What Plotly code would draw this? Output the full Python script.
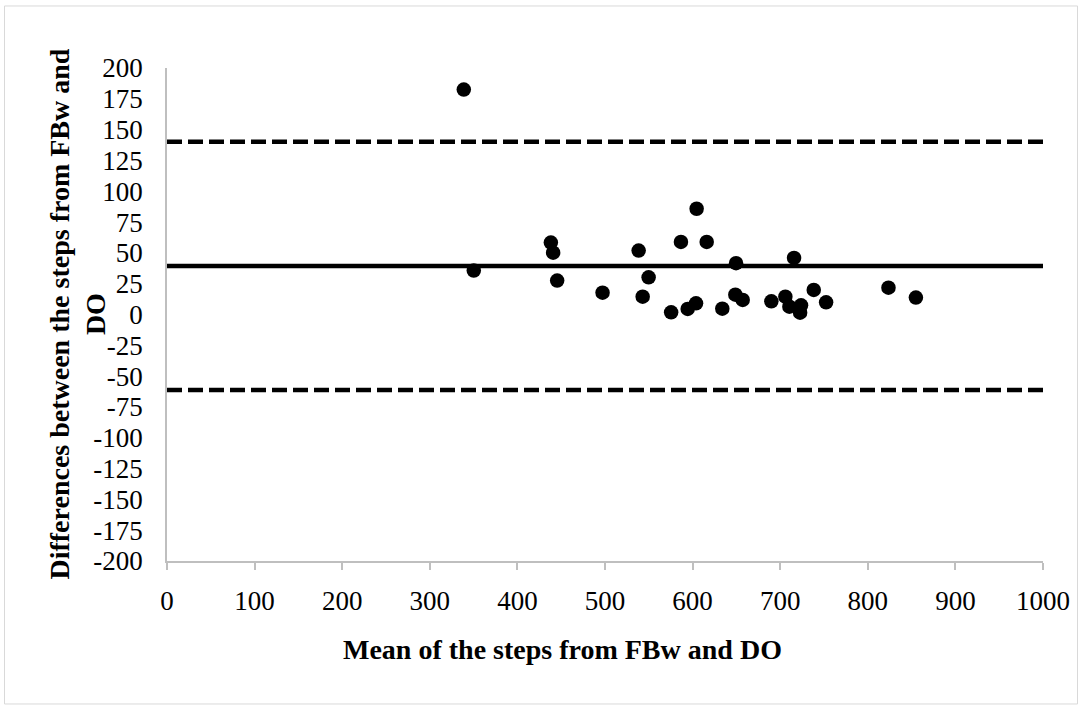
import plotly.graph_objects as go

# Data (Bland-Altman style plot)
mean_steps = [338.8, 350.2, 438.2, 440.8, 445.4, 497.2, 538.4, 543.0, 549.8, 575.5,
              594.4, 603.9, 586.7, 604.6, 616.1, 633.9, 649.6, 648.8, 657.2, 689.9,
              705.9, 710.5, 715.8, 723.8, 722.7, 738.3, 752.4, 823.6, 854.9]
diff_steps = [182.5, 35.6, 58.4, 50.2, 27.5, 17.7, 51.9, 14.5, 30.2, 1.8,
              4.5, 9.1, 58.9, 85.8, 58.9, 4.7, 41.6, 16.1, 11.8, 10.7,
              14.5, 6.3, 45.9, 7.5, 1.5, 19.9, 9.9, 21.8, 13.7]
line_x = [0, 1000]
mean_diff = 39.4
upper_loa = 140.2
lower_loa = -61.3
y_ticks = list(range(-200, 201, 25))
y_tick_labels = [str(v) for v in y_ticks]  # plain hyphen minus as in reference
x_ticks = list(range(0, 1001, 100))
x_tick_labels = [str(v) for v in x_ticks]

FONT = "Liberation Serif"

fig = go.Figure()
fig.add_trace(go.Scatter(x=line_x, y=[upper_loa, upper_loa], mode="lines",
                         line=dict(color="black", width=4.5, dash="15px,6px"),
                         hoverinfo="skip", showlegend=False))
fig.add_trace(go.Scatter(x=line_x, y=[lower_loa, lower_loa], mode="lines",
                         line=dict(color="black", width=4.5, dash="15px,6px"),
                         hoverinfo="skip", showlegend=False))
fig.add_trace(go.Scatter(x=line_x, y=[mean_diff, mean_diff], mode="lines",
                         line=dict(color="black", width=4.5),
                         hoverinfo="skip", showlegend=False))
fig.add_trace(go.Scatter(x=mean_steps, y=diff_steps, mode="markers",
                         marker=dict(color="black", size=14.5),
                         showlegend=False))

fig.update_layout(
    width=1083, height=713,
    margin=dict(l=167, r=40, t=68, b=152),
    paper_bgcolor="white", plot_bgcolor="white",
    font=dict(family=FONT, size=27, color="black"),
    showlegend=False,
    annotations=[
        dict(text="<b>Mean of the steps from FBw and DO</b>", xref="paper", yref="paper",
             x=0.451, y=-0.1805, xanchor="center", yanchor="middle", showarrow=False,
             font=dict(family=FONT, size=28, color="black")),
        dict(text="<b>Differences between the steps from FBw and<br>DO</b>", xref="paper", yref="paper",
             x=-0.1027, y=0.5, xanchor="center", yanchor="middle", showarrow=False,
             textangle=-90,
             font=dict(family=FONT, size=28, color="black")),
    ],
    shapes=[
        dict(type="rect", xref="paper", yref="paper",
             x0=-0.1855, x1=1.0394, y0=-0.290, y1=1.1258,
             line=dict(color="#d9d9d9", width=1), fillcolor="rgba(0,0,0,0)", layer="below"),
    ],
)

fig.update_xaxes(range=[0, 1000], tickvals=x_ticks, ticktext=x_tick_labels,
                 showgrid=False, zeroline=False,
                 showline=True, linecolor="#bfbfbf", linewidth=1.5,
                 ticks="outside", ticklen=7, tickcolor="#bfbfbf", tickwidth=1.5,
                 ticklabelstandoff=8,
                 tickfont=dict(family=FONT, size=27, color="black"))
fig.update_yaxes(range=[-200, 200], tickvals=y_ticks, ticktext=y_tick_labels,
                 showgrid=False, zeroline=False,
                 showline=True, linecolor="#bfbfbf", linewidth=1.5,
                 ticks="", ticklabelstandoff=17,
                 tickfont=dict(family=FONT, size=27, color="black"))

fig.write_html("out.html")
